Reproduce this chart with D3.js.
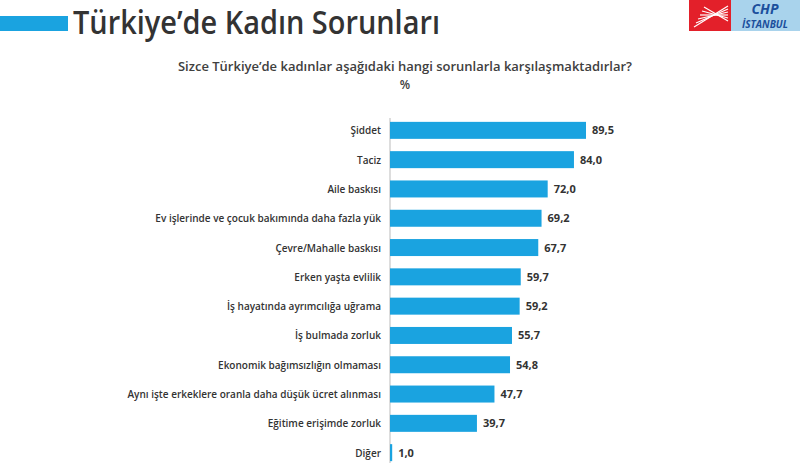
<!DOCTYPE html>
<html><head><meta charset="utf-8">
<script src="https://cdn.jsdelivr.net/npm/d3@7"></script>
<style>body{margin:0;background:#fff}</style></head>
<body><svg id="c" width="800" height="463"></svg>
<script>
var categories = ["Şiddet","Taciz","Aile baskısı","Ev işlerinde ve çocuk bakımında daha fazla yük","Çevre/Mahalle baskısı","Erken yaşta evlilik","İş hayatında ayrımcılığa uğrama","İş bulmada zorluk","Ekonomik bağımsızlığın olmaması","Aynı işte erkeklere oranla daha düşük ücret alınması","Eğitime erişimde zorluk","Diğer"];
var values = [89.5,84.0,72.0,69.2,67.7,59.7,59.2,55.7,54.8,47.7,39.7,1.0];

var svg = d3.select("#c");
var font = "'Open Sans', sans-serif";

// header
svg.append("rect").attr("x",0).attr("y",16).attr("width",68).attr("height",15).attr("fill","#1aa3e0");
svg.append("text").attr("x",73).attr("y",34).attr("font-family",font).attr("font-size",32)
  .attr("font-weight","600").attr("textLength",367).attr("lengthAdjust","spacingAndGlyphs")
  .attr("fill","#333").text("Türkiye’de Kadın Sorunları");

// logo
svg.append("rect").attr("x",689).attr("y",0).attr("width",42).attr("height",31).attr("fill","#e3202a");
var rays = d3.range(6);
svg.selectAll(".ray").data(rays).enter().append("line")
  .attr("x1",d=>694+d*2).attr("y1",d=>27-d*4).attr("x2",728).attr("y2",d=>6+d*3)
  .attr("stroke","#fff").attr("stroke-width",1.2);
svg.append("rect").attr("x",731).attr("y",0).attr("width",69).attr("height",31).attr("fill","#a9d3ec");
svg.append("text").attr("x",765).attr("y",14).attr("text-anchor","middle").attr("font-family",font)
  .attr("font-weight","bold").attr("font-style","italic").attr("font-size",14).attr("fill","#1b4f9c").text("CHP");
svg.append("text").attr("x",765).attr("y",28).attr("text-anchor","middle").attr("font-family",font)
  .attr("font-weight","bold").attr("font-style","italic").attr("font-size",10).attr("fill","#1b4f9c").text("İSTANBUL");

svg.append("text").attr("x",405).attr("y",71).attr("text-anchor","middle").attr("font-family",font)
  .attr("font-weight","600").attr("font-size",13).attr("fill","#404040")
  .text("Sizce Türkiye’de kadınlar aşağıdaki hangi sorunlarla karşılaşmaktadırlar?");
svg.append("text").attr("x",405).attr("y",89).attr("text-anchor","middle").attr("font-family",font)
  .attr("font-weight","600").attr("font-size",12).attr("fill","#404040").text("%");

var x = d3.scaleLinear().domain([0,100]).range([390,609]);
var y = d3.scaleBand().domain(categories).range([116,467]).paddingInner(0.42).paddingOuter(0.2);

svg.append("line").attr("x1",x(0)).attr("x2",x(0)).attr("y1",118).attr("y2",463).attr("stroke","#bbb");

var g = svg.append("g");
g.selectAll("rect.bar").data(values).enter().append("rect").attr("class","bar")
  .attr("x",x(0)).attr("y",(d,i)=>y(categories[i])).attr("width",d=>x(d)-x(0))
  .attr("height",y.bandwidth()).attr("fill","#1aa3e0");
g.selectAll("text.val").data(values).enter().append("text").attr("class","val")
  .attr("x",d=>x(d)+6).attr("y",(d,i)=>y(categories[i])+y.bandwidth()/2+4)
  .attr("font-family",font).attr("font-weight","bold").attr("font-size",11).attr("fill","#333")
  .text(d=>d.toFixed(1).replace(".",","));
g.selectAll("text.cat").data(categories).enter().append("text").attr("class","cat")
  .attr("x",381).attr("y",d=>y(d)+y.bandwidth()/2+4).attr("text-anchor","end")
  .attr("font-family",font).attr("font-weight","600").attr("font-size",10).attr("fill","#333")
  .text(d=>d);
</script></body></html>
